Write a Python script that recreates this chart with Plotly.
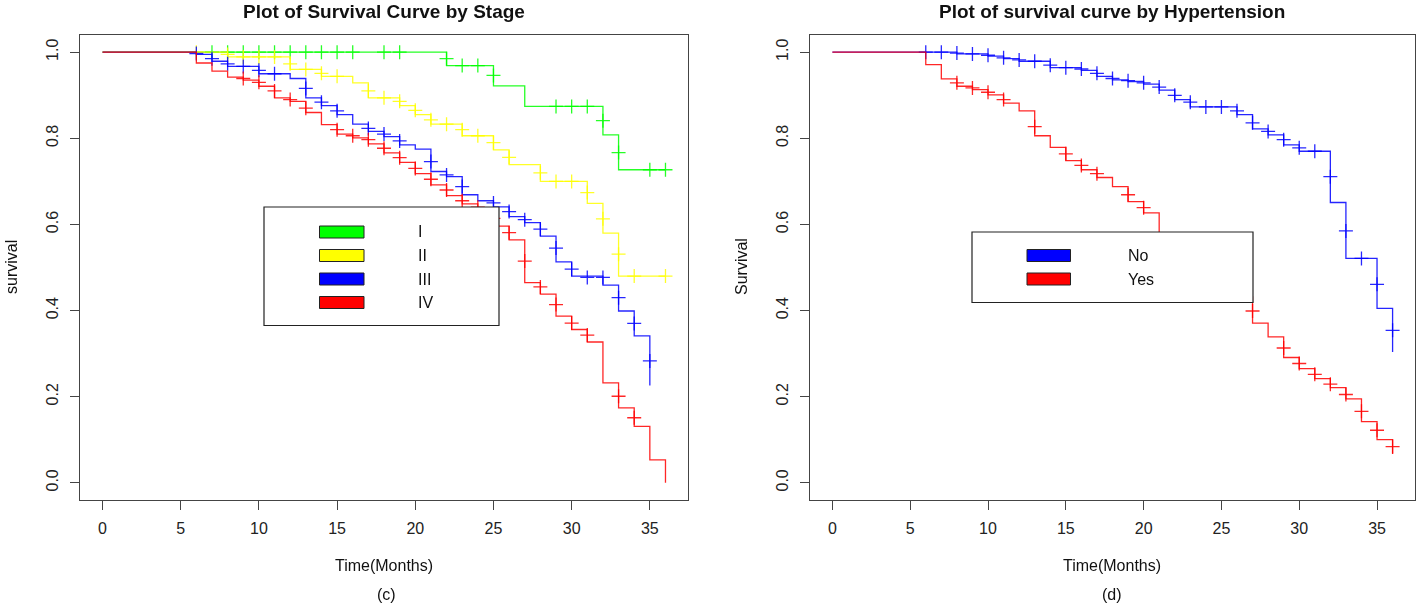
import plotly.graph_objects as go

# ---------------- data ----------------
# Left panel: survival by Stage
stage_I_times = [22, 25, 27, 32, 33]
stage_I_surv = [0.969, 0.922, 0.874, 0.808, 0.727]
stage_I_end = 36
stage_I_cens_t = [7, 8, 9, 10, 11, 12, 13, 14, 15, 16, 18, 19, 22, 23, 24, 25, 29, 30, 31, 32, 33, 35, 36]
stage_I_cens_s = [1, 1, 1, 1, 1, 1, 1, 1, 1, 1, 1, 1, 0.985, 0.969, 0.969, 0.946, 0.874, 0.874, 0.874, 0.841, 0.767, 0.727, 0.727]

stage_II_times = [8, 12, 14, 16, 17, 19, 20, 21, 23, 25, 26, 28, 31, 32, 33]
stage_II_surv = [0.989, 0.960, 0.944, 0.929, 0.894, 0.876, 0.855, 0.833, 0.806, 0.773, 0.739, 0.700, 0.649, 0.580, 0.480]
stage_II_end = 36
stage_II_cens_t = [6, 8, 9, 10, 11, 12, 13, 14, 15, 17, 18, 19, 20, 21, 22, 23, 24, 25, 26, 28, 29, 30, 31, 32, 33, 34, 36]
stage_II_cens_s = [1.0, 0.995, 0.989, 0.989, 0.989, 0.973, 0.960, 0.951, 0.944, 0.91, 0.894, 0.886, 0.865, 0.843, 0.833,
                   0.820, 0.806, 0.790, 0.756, 0.72, 0.700, 0.700, 0.674, 0.613, 0.531, 0.480, 0.480]

stage_III_times = [6, 7, 8, 10, 12, 13, 14, 15, 16, 17, 18, 19, 20, 21, 22, 23, 24, 25, 26, 27, 28, 29, 30, 32, 33, 34, 35]
stage_III_surv = [0.995, 0.979, 0.967, 0.950, 0.939, 0.894, 0.876, 0.855, 0.833, 0.816, 0.804, 0.785, 0.775, 0.723,
                  0.711, 0.669, 0.655, 0.641, 0.618, 0.604, 0.573, 0.513, 0.480, 0.459, 0.399, 0.341, 0.226]
stage_III_end = 35
stage_III_cens_t = [6, 7, 8, 9, 10, 11, 13, 14, 15, 17, 18, 19, 21, 22, 23, 25, 26, 27, 28, 29, 30, 31, 32, 33, 34, 35]
stage_III_cens_s = [0.997, 0.985, 0.973, 0.967, 0.958, 0.950, 0.916, 0.884, 0.864, 0.823, 0.810, 0.794, 0.746, 0.715,
                    0.688, 0.650, 0.630, 0.611, 0.589, 0.545, 0.496, 0.477, 0.477, 0.430, 0.370, 0.283]

stage_IV_times = [6, 7, 8, 9, 10, 11, 12, 13, 14, 15, 16, 17, 18, 19, 20, 21, 22, 23, 24, 25, 26, 27, 28, 29, 30, 31,
                  32, 33, 34, 35, 36]
stage_IV_surv = [0.975, 0.956, 0.942, 0.935, 0.921, 0.894, 0.886, 0.860, 0.832, 0.810, 0.801, 0.787, 0.766, 0.744,
                 0.718, 0.692, 0.667, 0.648, 0.632, 0.596, 0.564, 0.465, 0.438, 0.387, 0.356, 0.327, 0.232, 0.174,
                 0.131, 0.053, 0.0]
stage_IV_end = 36
stage_IV_cens_t = [9, 10, 11, 12, 13, 15, 16, 17, 18, 19, 20, 21, 22, 23, 24, 25, 26, 27, 28, 29, 30, 31, 33, 34]
stage_IV_cens_s = [0.939, 0.930, 0.910, 0.890, 0.870, 0.820, 0.806, 0.797, 0.777, 0.755, 0.730, 0.705, 0.680, 0.655,
                   0.640, 0.614, 0.581, 0.515, 0.455, 0.414, 0.371, 0.343, 0.201, 0.151]

# Right panel: survival by Hypertension
no_times = [8, 10, 11, 12, 14, 16, 17, 18, 19, 20, 21, 22, 23, 26, 27, 28, 29, 30, 32, 33, 35, 36]
no_surv = [0.996, 0.991, 0.985, 0.979, 0.964, 0.958, 0.944, 0.936, 0.932, 0.926, 0.912, 0.890, 0.873, 0.855, 0.822,
           0.808, 0.785, 0.770, 0.651, 0.521, 0.405, 0.304]
no_end = 36
no_cens_t = [6, 7, 8, 9, 10, 11, 12, 13, 14, 15, 16, 17, 18, 19, 20, 21, 22, 23, 24, 25, 26, 27, 28, 29, 30, 31, 32,
             33, 34, 35, 36]
no_cens_s = [1.0, 1.0, 0.998, 0.996, 0.993, 0.987, 0.982, 0.979, 0.970, 0.964, 0.961, 0.951, 0.939, 0.934, 0.929,
             0.919, 0.900, 0.884, 0.873, 0.873, 0.864, 0.836, 0.816, 0.797, 0.778, 0.770, 0.711, 0.585, 0.521,
             0.461, 0.354]

yes_times = [6, 7, 8, 9, 10, 11, 12, 13, 14, 15, 16, 17, 18, 19, 20, 21, 22, 23, 24, 25, 26, 27, 28, 29, 30, 31, 32,
             33, 34, 35, 36]
yes_surv = [0.971, 0.938, 0.921, 0.913, 0.901, 0.882, 0.864, 0.806, 0.779, 0.748, 0.727, 0.709, 0.688, 0.653, 0.627,
            0.578, 0.562, 0.529, 0.515, 0.463, 0.432, 0.371, 0.339, 0.291, 0.265, 0.242, 0.221, 0.195, 0.142, 0.100,
            0.067]
yes_end = 36
yes_cens_t = [8, 9, 10, 11, 13, 15, 16, 17, 19, 20, 23, 24, 25, 26, 27, 29, 30, 31, 32, 33, 34, 35, 36]
yes_cens_s = [0.929, 0.917, 0.907, 0.890, 0.827, 0.764, 0.737, 0.718, 0.669, 0.639, 0.545, 0.521, 0.488, 0.446,
              0.399, 0.313, 0.277, 0.252, 0.229, 0.205, 0.166, 0.122, 0.084]

stage_labels = ["I", "II", "III", "IV"]
htn_labels = ["No", "Yes"]
x_ticks = [0, 5, 10, 15, 20, 25, 30, 35]
y_ticks = [0.0, 0.2, 0.4, 0.6, 0.8, 1.0]

# ---------------- figure ----------------
W, H = 1416, 605


def px(x):
    return x / W


def py(y):
    return 1 - y / H


GREEN, YELLOW, BLUE, RED = "#00FF00", "#FFFF00", "#0000FF", "#FF0000"

fig = go.Figure()


def add_curve(times, surv, end, ct, cs, color, xa, ya):
    xs = [0] + list(times) + [end]
    ys = [1.0] + list(surv) + [surv[-1]]
    fig.add_trace(go.Scatter(x=xs, y=ys, mode="lines", line=dict(color=color, width=1.3, shape="hv"),
                             xaxis=xa, yaxis=ya, showlegend=False, hoverinfo="skip", opacity=0.85))
    fig.add_trace(go.Scatter(x=ct, y=cs, mode="markers",
                             marker=dict(symbol="cross-thin", size=10, line=dict(color=color, width=1.3)),
                             xaxis=xa, yaxis=ya, showlegend=False, hoverinfo="skip", opacity=0.85))


add_curve(stage_I_times, stage_I_surv, stage_I_end, stage_I_cens_t, stage_I_cens_s, GREEN, "x", "y")
add_curve(stage_II_times, stage_II_surv, stage_II_end, stage_II_cens_t, stage_II_cens_s, YELLOW, "x", "y")
add_curve(stage_III_times, stage_III_surv, stage_III_end, stage_III_cens_t, stage_III_cens_s, BLUE, "x", "y")
add_curve(stage_IV_times, stage_IV_surv, stage_IV_end, stage_IV_cens_t, stage_IV_cens_s, RED, "x", "y")
add_curve(no_times, no_surv, no_end, no_cens_t, no_cens_s, BLUE, "x2", "y2")
add_curve(yes_times, yes_surv, yes_end, yes_cens_t, yes_cens_s, RED, "x2", "y2")

FONT = "Liberation Sans, Arial, sans-serif"
axis_common = dict(showline=True, mirror=True, linecolor="#444", linewidth=1.2, ticks="outside", ticklen=9,
                   tickcolor="#444", tickwidth=1, showgrid=False, zeroline=False,
                   tickfont=dict(family=FONT, size=16, color="#222"))

xr = [-1.44, 37.44]
yr = [-0.04, 1.04]
fig.update_layout(
    width=W, height=H, margin=dict(l=0, r=0, t=0, b=0),
    paper_bgcolor="white", plot_bgcolor="white",
    xaxis=dict(domain=[px(80), px(688)], range=xr, tickvals=x_ticks, anchor="y", ticklabelstandoff=5,
               **axis_common),
    yaxis=dict(domain=[py(500), py(35)], range=yr, tickvals=y_ticks, tickformat=".1f", tickangle=-90,
               anchor="x", ticklabelstandoff=6, **axis_common),
    xaxis2=dict(domain=[px(810), px(1415)], range=xr, tickvals=x_ticks, anchor="y2", ticklabelstandoff=5,
                **axis_common),
    yaxis2=dict(domain=[py(500), py(35)], range=yr, tickvals=y_ticks, tickformat=".1f", tickangle=-90,
                anchor="x2", ticklabelstandoff=6, **axis_common),
)

ann = []


def text(x, y, s, size=16, bold=False, angle=0, xanchor="center"):
    ann.append(dict(x=px(x), y=py(y), xref="paper", yref="paper", text=("<b>%s</b>" % s) if bold else s,
                    showarrow=False, xanchor=xanchor, yanchor="middle", textangle=angle,
                    font=dict(family=FONT, size=size, color="#111")))


text(384, 11, "Plot of Survival Curve by Stage", size=19, bold=True)
text(1112, 11, "Plot of survival curve by Hypertension", size=19, bold=True)
text(384, 565, "Time(Months)")
text(1112, 565, "Time(Months)")
text(386, 594, "(c)")
text(1112, 594, "(d)")
text(11, 267, "survival", angle=-90)
text(741, 267, "Survival", angle=-90)

shapes = []


def rect(x0, y0, x1, y1, fill="rgba(0,0,0,0)", lw=1.2):
    shapes.append(dict(type="rect", xref="paper", yref="paper", x0=px(x0), x1=px(x1), y0=py(y1), y1=py(y0),
                       fillcolor=fill, line=dict(color="#222", width=lw)))


# left legend
rect(264, 207, 499, 325.5, fill="white")
leg_cols = [GREEN, YELLOW, BLUE, RED]
leg_y = [232, 255.5, 279, 302.5]
for lab, col, yc in zip(stage_labels, leg_cols, leg_y):
    rect(319.5, yc - 6, 364, yc + 6, fill=col, lw=1)
    text(416, yc, lab, xanchor="left")

# right legend
rect(972, 232, 1253, 302.5, fill="white")
for lab, col, yc in zip(htn_labels, [BLUE, RED], [255.5, 279]):
    rect(1027, yc - 6, 1070.5, yc + 6, fill=col, lw=1)
    text(1126, yc, lab, xanchor="left")

fig.update_layout(annotations=ann, shapes=shapes)
fig.write_html("out.html", config={"displayModeBar": False},
               post_script="document.body.style.margin='0';document.body.style.overflow='hidden';")
